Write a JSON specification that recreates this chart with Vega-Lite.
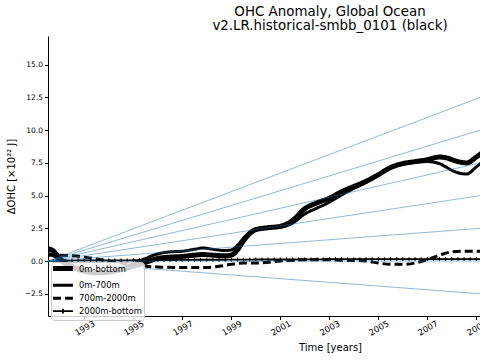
{
  "$schema": "https://vega.github.io/schema/vega-lite/v6.json",
  "width": 432,
  "height": 280,
  "autosize": {"type": "none"},
  "padding": {"left": 48, "top": 36, "right": 0, "bottom": 44},
  "config": {"font": "DejaVu Sans", "view": {"stroke": null}},
  "title": {
    "text": ["OHC Anomaly, Global Ocean", "v2.LR.historical-smbb_0101 (black)"],
    "fontSize": 13.4, "fontWeight": "normal", "color": "black", "font": "DejaVu Sans",
    "anchor": "middle", "dx": 66, "offset": 4, "lineHeight": 14
  },
  "datasets": {
    "ref": [
      {"rate": "r1", "year": 1991.52, "value": 0}, {"rate": "r1", "year": 2009.15, "value": 12.5},
      {"rate": "r2", "year": 1991.52, "value": 0}, {"rate": "r2", "year": 2009.15, "value": 10},
      {"rate": "r3", "year": 1991.52, "value": 0}, {"rate": "r3", "year": 2009.15, "value": 7.5},
      {"rate": "r4", "year": 1991.52, "value": 0}, {"rate": "r4", "year": 2009.15, "value": 5},
      {"rate": "r5", "year": 1991.52, "value": 0}, {"rate": "r5", "year": 2009.15, "value": 2.5},
      {"rate": "r6", "year": 1991.52, "value": 0}, {"rate": "r6", "year": 2009.15, "value": 0},
      {"rate": "r7", "year": 1991.52, "value": 0}, {"rate": "r7", "year": 2009.15, "value": -2.5}
    ],
    "ohc": [
      {"series": "0m-bottom", "year": 1991.52, "value": 0.95},
      {"series": "0m-bottom", "year": 1991.75, "value": 0.75},
      {"series": "0m-bottom", "year": 1992.0, "value": 0.2},
      {"series": "0m-bottom", "year": 1992.5, "value": -0.4},
      {"series": "0m-bottom", "year": 1993.0, "value": -0.75},
      {"series": "0m-bottom", "year": 1993.5, "value": -0.9},
      {"series": "0m-bottom", "year": 1994.0, "value": -0.85},
      {"series": "0m-bottom", "year": 1994.5, "value": -0.65},
      {"series": "0m-bottom", "year": 1995.0, "value": -0.4},
      {"series": "0m-bottom", "year": 1995.5, "value": -0.1},
      {"series": "0m-bottom", "year": 1996.0, "value": 0.2},
      {"series": "0m-bottom", "year": 1996.5, "value": 0.3},
      {"series": "0m-bottom", "year": 1997.0, "value": 0.35},
      {"series": "0m-bottom", "year": 1997.5, "value": 0.45},
      {"series": "0m-bottom", "year": 1997.85, "value": 0.5},
      {"series": "0m-bottom", "year": 1998.25, "value": 0.45},
      {"series": "0m-bottom", "year": 1998.75, "value": 0.4},
      {"series": "0m-bottom", "year": 1999.0, "value": 0.45},
      {"series": "0m-bottom", "year": 1999.25, "value": 0.85},
      {"series": "0m-bottom", "year": 1999.5, "value": 1.55},
      {"series": "0m-bottom", "year": 1999.75, "value": 2.1},
      {"series": "0m-bottom", "year": 2000.0, "value": 2.4},
      {"series": "0m-bottom", "year": 2000.5, "value": 2.55},
      {"series": "0m-bottom", "year": 2001.0, "value": 2.65},
      {"series": "0m-bottom", "year": 2001.5, "value": 3.1},
      {"series": "0m-bottom", "year": 2002.0, "value": 4.0},
      {"series": "0m-bottom", "year": 2002.5, "value": 4.45},
      {"series": "0m-bottom", "year": 2003.0, "value": 4.8},
      {"series": "0m-bottom", "year": 2003.5, "value": 5.3},
      {"series": "0m-bottom", "year": 2004.0, "value": 5.7},
      {"series": "0m-bottom", "year": 2004.5, "value": 6.1},
      {"series": "0m-bottom", "year": 2005.0, "value": 6.6},
      {"series": "0m-bottom", "year": 2005.5, "value": 7.15},
      {"series": "0m-bottom", "year": 2006.0, "value": 7.45},
      {"series": "0m-bottom", "year": 2006.5, "value": 7.6},
      {"series": "0m-bottom", "year": 2007.0, "value": 7.75},
      {"series": "0m-bottom", "year": 2007.5, "value": 7.95},
      {"series": "0m-bottom", "year": 2007.75, "value": 7.9},
      {"series": "0m-bottom", "year": 2008.25, "value": 7.6},
      {"series": "0m-bottom", "year": 2008.6, "value": 7.5},
      {"series": "0m-bottom", "year": 2009.0, "value": 7.95},
      {"series": "0m-bottom", "year": 2009.25, "value": 8.3},
      {"series": "0m-700m", "year": 1991.52, "value": 0.6},
      {"series": "0m-700m", "year": 1991.75, "value": 0.4},
      {"series": "0m-700m", "year": 1992.0, "value": 0.0},
      {"series": "0m-700m", "year": 1992.5, "value": -0.55},
      {"series": "0m-700m", "year": 1993.0, "value": -0.85},
      {"series": "0m-700m", "year": 1993.5, "value": -0.95},
      {"series": "0m-700m", "year": 1994.0, "value": -0.85},
      {"series": "0m-700m", "year": 1994.5, "value": -0.55},
      {"series": "0m-700m", "year": 1995.0, "value": -0.2},
      {"series": "0m-700m", "year": 1995.5, "value": 0.2},
      {"series": "0m-700m", "year": 1996.0, "value": 0.55},
      {"series": "0m-700m", "year": 1996.5, "value": 0.7},
      {"series": "0m-700m", "year": 1997.0, "value": 0.75},
      {"series": "0m-700m", "year": 1997.5, "value": 0.9},
      {"series": "0m-700m", "year": 1997.85, "value": 1.0},
      {"series": "0m-700m", "year": 1998.25, "value": 0.9},
      {"series": "0m-700m", "year": 1998.75, "value": 0.8},
      {"series": "0m-700m", "year": 1999.0, "value": 0.85},
      {"series": "0m-700m", "year": 1999.25, "value": 1.2},
      {"series": "0m-700m", "year": 1999.5, "value": 1.75},
      {"series": "0m-700m", "year": 1999.75, "value": 2.2},
      {"series": "0m-700m", "year": 2000.0, "value": 2.45},
      {"series": "0m-700m", "year": 2000.5, "value": 2.55},
      {"series": "0m-700m", "year": 2001.0, "value": 2.6},
      {"series": "0m-700m", "year": 2001.5, "value": 2.9},
      {"series": "0m-700m", "year": 2002.0, "value": 3.6},
      {"series": "0m-700m", "year": 2002.5, "value": 4.05},
      {"series": "0m-700m", "year": 2003.0, "value": 4.5},
      {"series": "0m-700m", "year": 2003.5, "value": 5.05},
      {"series": "0m-700m", "year": 2004.0, "value": 5.55},
      {"series": "0m-700m", "year": 2004.5, "value": 6.0},
      {"series": "0m-700m", "year": 2005.0, "value": 6.55},
      {"series": "0m-700m", "year": 2005.5, "value": 7.1},
      {"series": "0m-700m", "year": 2006.0, "value": 7.4},
      {"series": "0m-700m", "year": 2006.5, "value": 7.55},
      {"series": "0m-700m", "year": 2007.0, "value": 7.6},
      {"series": "0m-700m", "year": 2007.5, "value": 7.45},
      {"series": "0m-700m", "year": 2007.75, "value": 7.2},
      {"series": "0m-700m", "year": 2008.1, "value": 6.85},
      {"series": "0m-700m", "year": 2008.6, "value": 6.65},
      {"series": "0m-700m", "year": 2009.0, "value": 7.2},
      {"series": "0m-700m", "year": 2009.25, "value": 7.6},
      {"series": "700m-2000m", "year": 1991.52, "value": 0.45},
      {"series": "700m-2000m", "year": 1992.0, "value": 0.45},
      {"series": "700m-2000m", "year": 1992.5, "value": 0.4},
      {"series": "700m-2000m", "year": 1993.0, "value": 0.3},
      {"series": "700m-2000m", "year": 1993.5, "value": 0.15},
      {"series": "700m-2000m", "year": 1994.0, "value": 0.0},
      {"series": "700m-2000m", "year": 1994.5, "value": -0.15},
      {"series": "700m-2000m", "year": 1995.0, "value": -0.3},
      {"series": "700m-2000m", "year": 1995.5, "value": -0.4},
      {"series": "700m-2000m", "year": 1996.0, "value": -0.45},
      {"series": "700m-2000m", "year": 1997.0, "value": -0.5},
      {"series": "700m-2000m", "year": 1998.0, "value": -0.5},
      {"series": "700m-2000m", "year": 1998.5, "value": -0.4},
      {"series": "700m-2000m", "year": 1999.0, "value": -0.25},
      {"series": "700m-2000m", "year": 1999.5, "value": -0.15},
      {"series": "700m-2000m", "year": 2000.0, "value": -0.15},
      {"series": "700m-2000m", "year": 2000.5, "value": -0.1},
      {"series": "700m-2000m", "year": 2001.0, "value": 0.0},
      {"series": "700m-2000m", "year": 2001.5, "value": 0.05},
      {"series": "700m-2000m", "year": 2002.0, "value": 0.1},
      {"series": "700m-2000m", "year": 2003.0, "value": 0.1},
      {"series": "700m-2000m", "year": 2003.5, "value": 0.05},
      {"series": "700m-2000m", "year": 2004.0, "value": 0.05},
      {"series": "700m-2000m", "year": 2004.5, "value": 0.0},
      {"series": "700m-2000m", "year": 2005.0, "value": -0.15},
      {"series": "700m-2000m", "year": 2005.5, "value": -0.25},
      {"series": "700m-2000m", "year": 2006.0, "value": -0.25},
      {"series": "700m-2000m", "year": 2006.5, "value": -0.15},
      {"series": "700m-2000m", "year": 2007.0, "value": 0.1},
      {"series": "700m-2000m", "year": 2007.5, "value": 0.45},
      {"series": "700m-2000m", "year": 2008.0, "value": 0.7},
      {"series": "700m-2000m", "year": 2008.5, "value": 0.75},
      {"series": "700m-2000m", "year": 2009.25, "value": 0.75},
      {"series": "2000m-bottom", "year": 1991.52, "value": 0.0},
      {"series": "2000m-bottom", "year": 1991.75, "value": 0.0},
      {"series": "2000m-bottom", "year": 1992.0, "value": 0.02},
      {"series": "2000m-bottom", "year": 1992.25, "value": 0.03},
      {"series": "2000m-bottom", "year": 1992.5, "value": 0.04},
      {"series": "2000m-bottom", "year": 1992.75, "value": 0.05},
      {"series": "2000m-bottom", "year": 1993.0, "value": 0.05},
      {"series": "2000m-bottom", "year": 1993.25, "value": 0.05},
      {"series": "2000m-bottom", "year": 1993.5, "value": 0.05},
      {"series": "2000m-bottom", "year": 1993.75, "value": 0.05},
      {"series": "2000m-bottom", "year": 1994.0, "value": 0.05},
      {"series": "2000m-bottom", "year": 1994.25, "value": 0.05},
      {"series": "2000m-bottom", "year": 1994.5, "value": 0.05},
      {"series": "2000m-bottom", "year": 1994.75, "value": 0.05},
      {"series": "2000m-bottom", "year": 1995.0, "value": 0.06},
      {"series": "2000m-bottom", "year": 1995.25, "value": 0.06},
      {"series": "2000m-bottom", "year": 1995.5, "value": 0.07},
      {"series": "2000m-bottom", "year": 1995.75, "value": 0.07},
      {"series": "2000m-bottom", "year": 1996.0, "value": 0.07},
      {"series": "2000m-bottom", "year": 1996.25, "value": 0.07},
      {"series": "2000m-bottom", "year": 1996.5, "value": 0.08},
      {"series": "2000m-bottom", "year": 1996.75, "value": 0.08},
      {"series": "2000m-bottom", "year": 1997.0, "value": 0.09},
      {"series": "2000m-bottom", "year": 1997.25, "value": 0.09},
      {"series": "2000m-bottom", "year": 1997.5, "value": 0.1},
      {"series": "2000m-bottom", "year": 1997.75, "value": 0.1},
      {"series": "2000m-bottom", "year": 1998.0, "value": 0.1},
      {"series": "2000m-bottom", "year": 1998.25, "value": 0.1},
      {"series": "2000m-bottom", "year": 1998.5, "value": 0.1},
      {"series": "2000m-bottom", "year": 1998.75, "value": 0.1},
      {"series": "2000m-bottom", "year": 1999.0, "value": 0.11},
      {"series": "2000m-bottom", "year": 1999.25, "value": 0.11},
      {"series": "2000m-bottom", "year": 1999.5, "value": 0.11},
      {"series": "2000m-bottom", "year": 1999.75, "value": 0.11},
      {"series": "2000m-bottom", "year": 2000.0, "value": 0.12},
      {"series": "2000m-bottom", "year": 2000.25, "value": 0.12},
      {"series": "2000m-bottom", "year": 2000.5, "value": 0.12},
      {"series": "2000m-bottom", "year": 2000.75, "value": 0.12},
      {"series": "2000m-bottom", "year": 2001.0, "value": 0.12},
      {"series": "2000m-bottom", "year": 2001.25, "value": 0.12},
      {"series": "2000m-bottom", "year": 2001.5, "value": 0.13},
      {"series": "2000m-bottom", "year": 2001.75, "value": 0.13},
      {"series": "2000m-bottom", "year": 2002.0, "value": 0.13},
      {"series": "2000m-bottom", "year": 2002.25, "value": 0.13},
      {"series": "2000m-bottom", "year": 2002.5, "value": 0.13},
      {"series": "2000m-bottom", "year": 2002.75, "value": 0.13},
      {"series": "2000m-bottom", "year": 2003.0, "value": 0.14},
      {"series": "2000m-bottom", "year": 2003.25, "value": 0.14},
      {"series": "2000m-bottom", "year": 2003.5, "value": 0.14},
      {"series": "2000m-bottom", "year": 2003.75, "value": 0.14},
      {"series": "2000m-bottom", "year": 2004.0, "value": 0.14},
      {"series": "2000m-bottom", "year": 2004.25, "value": 0.14},
      {"series": "2000m-bottom", "year": 2004.5, "value": 0.14},
      {"series": "2000m-bottom", "year": 2004.75, "value": 0.14},
      {"series": "2000m-bottom", "year": 2005.0, "value": 0.14},
      {"series": "2000m-bottom", "year": 2005.25, "value": 0.14},
      {"series": "2000m-bottom", "year": 2005.5, "value": 0.15},
      {"series": "2000m-bottom", "year": 2005.75, "value": 0.15},
      {"series": "2000m-bottom", "year": 2006.0, "value": 0.15},
      {"series": "2000m-bottom", "year": 2006.25, "value": 0.15},
      {"series": "2000m-bottom", "year": 2006.5, "value": 0.15},
      {"series": "2000m-bottom", "year": 2006.75, "value": 0.15},
      {"series": "2000m-bottom", "year": 2007.0, "value": 0.15},
      {"series": "2000m-bottom", "year": 2007.25, "value": 0.15},
      {"series": "2000m-bottom", "year": 2007.5, "value": 0.15},
      {"series": "2000m-bottom", "year": 2007.75, "value": 0.15},
      {"series": "2000m-bottom", "year": 2008.0, "value": 0.15},
      {"series": "2000m-bottom", "year": 2008.25, "value": 0.15},
      {"series": "2000m-bottom", "year": 2008.5, "value": 0.15},
      {"series": "2000m-bottom", "year": 2008.75, "value": 0.15},
      {"series": "2000m-bottom", "year": 2009.0, "value": 0.15},
      {"series": "2000m-bottom", "year": 2009.25, "value": 0.15}
    ]
  },
  "encoding": {
    "x": {
      "field": "year", "type": "quantitative",
      "scale": {"domain": [1991.52, 2009.15], "nice": false, "zero": false},
      "axis": {
        "values": [1993, 1995, 1997, 1999, 2001, 2003, 2005, 2007, 2009],
        "format": "d", "grid": false, "labelAngle": -30, "labelAlign": "center", "labelBaseline": "middle",
        "labelFontSize": 8.5, "labelColor": "black", "labelPadding": 8, "tickSize": 3.5,
        "tickColor": "black", "domainColor": "black", "title": "Time [years]",
        "titleFontSize": 10, "titleFontWeight": "normal", "titleColor": "black", "titleX": 282, "titlePadding": 6
      }
    },
    "y": {
      "field": "value", "type": "quantitative",
      "scale": {"domain": [-4.2, 17.2], "nice": false, "zero": false},
      "axis": {
        "values": [-2.5, 0, 2.5, 5, 7.5, 10, 12.5, 15],
        "format": ".1f", "grid": false, "labelFontSize": 7.5, "labelColor": "black", "labelPadding": 2,
        "tickSize": 3.5, "tickColor": "black", "domainColor": "black", "title": "ΔOHC [×10²² J]",
        "titleFontSize": 10, "titleFontWeight": "normal", "titleColor": "black", "titlePadding": 8
      }
    }
  },
  "layer": [
    {
      "data": {"name": "ohc"},
      "mark": {"type": "line", "color": "black", "interpolate": "monotone", "clip": true},
      "encoding": {
        "strokeDash": {
          "field": "series", "type": "nominal",
          "scale": {"domain": ["0m-bottom", "0m-700m", "700m-2000m", "2000m-bottom"], "range": [[1, 0], [1, 0], [8, 4], [1, 0]]},
          "legend": {
            "title": null, "orient": "none", "legendX": 3, "legendY": 226,
            "symbolType": "M-2.25,0H7.75", "symbolSize": 16, "symbolStrokeColor": "black",
            "labelFontSize": 8.4, "labelColor": "black", "labelOffset": 17,
            "fillColor": "rgba(255,255,255,0.8)", "strokeColor": "#cccccc", "cornerRadius": 3,
            "padding": 2, "rowPadding": 0,
            "encode": {"symbols": {"update": {"shape": {"signal": "datum.label == '2000m-bottom' ? 'M-2.25,0H7.75M2.75,-1.2V1.2' : 'M-2.25,0H7.75'"}}}}
          }
        },
        "strokeWidth": {
          "field": "series", "type": "nominal",
          "scale": {"type": "ordinal", "domain": ["0m-bottom", "0m-700m", "700m-2000m", "2000m-bottom"], "range": [5, 3, 3, 1.8]},
          "legend": {
            "title": null, "orient": "none", "legendX": 3, "legendY": 226,
            "symbolType": "M-2.25,0H7.75", "symbolSize": 16, "symbolStrokeColor": "black",
            "labelFontSize": 8.4, "labelColor": "black", "labelOffset": 17,
            "fillColor": "rgba(255,255,255,0.8)", "strokeColor": "#cccccc", "cornerRadius": 3,
            "padding": 2, "rowPadding": 0,
            "encode": {"symbols": {"update": {"shape": {"signal": "datum.label == '2000m-bottom' ? 'M-2.25,0H7.75M2.75,-1.2V1.2' : 'M-2.25,0H7.75'"}}}}
          }
        }
      }
    },
    {
      "data": {"name": "ohc"},
      "transform": [{"filter": "datum.series == '2000m-bottom'"}],
      "mark": {"type": "point", "shape": "M-1,0H1M0,-1V1", "filled": false, "stroke": "black", "strokeWidth": 1, "size": 16, "opacity": 1, "clip": true},
      "encoding": {}
    },
    {
      "data": {"name": "ref"},
      "mark": {"type": "line", "color": "#1f77b4", "opacity": 0.5, "strokeWidth": 1, "clip": true},
      "encoding": {"detail": {"field": "rate", "type": "nominal"}}
    },
    {
      "data": {"values": [{}]},
      "mark": {"type": "rule", "color": "black", "strokeWidth": 1},
      "encoding": {"y": {"datum": 17.2}, "x": null}
    }
  ]
}
